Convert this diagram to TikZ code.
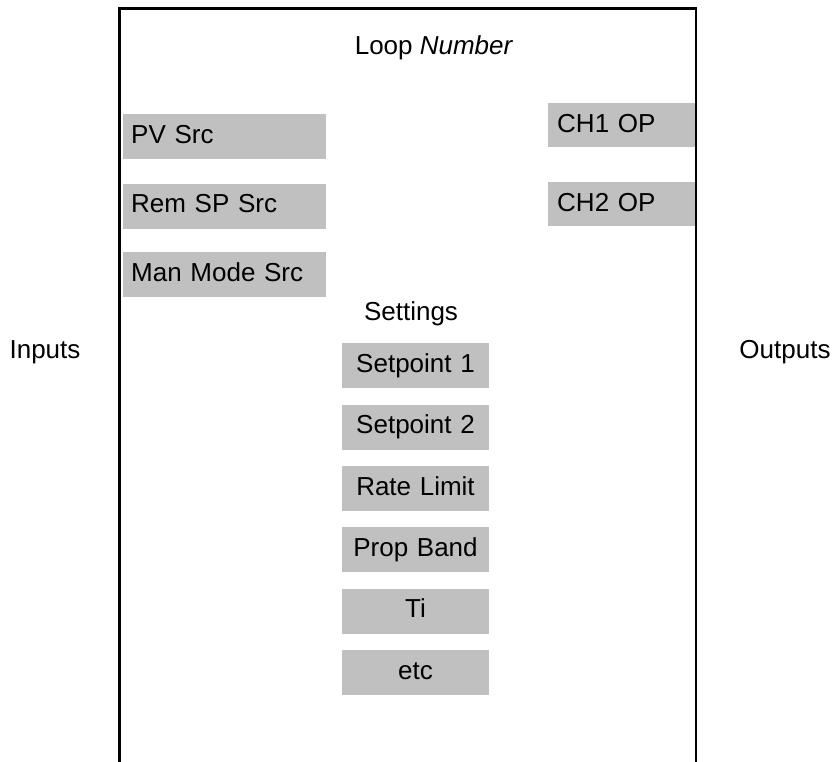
\documentclass[tikz,border=0pt]{standalone}
\usepackage{fontspec}
\setmainfont{Liberation Sans}
\usepackage{xcolor}
\usetikzlibrary{positioning}
\definecolor{boxgrey}{RGB}{192,192,192}

\begin{document}
\begin{tikzpicture}[
  x=1bp,y=-1bp,
  every node/.style={font=\fontsize{26bp}{31bp}\selectfont},
  srcbox/.style={fill=boxgrey,inner xsep=8bp,inner ysep=0pt,text width=187bp,
                 align=left,text height=29bp,text depth=16bp},
  opbox/.style={fill=boxgrey,inner xsep=9bp,inner ysep=0pt,text width=129bp,
                align=left,text height=29.5bp,text depth=14.5bp},
  setbox/.style={fill=boxgrey,inner xsep=8bp,inner ysep=0pt,text width=131bp,
                 align=center,text height=29bp,text depth=16bp},
  lbl/.style={anchor=base,inner sep=0pt},
  frame/.style={line width=2.8bp}
]
\useasboundingbox (0,0) rectangle (836,762);

%% Titles
\node[lbl] (loop) at (434,55) {Loop \textit{Number}};
\node[lbl] (inp)  at (45,358) {Inputs};
\node[lbl] (outp) at (785,358) {Outputs};

%% Inputs column
\node[srcbox,anchor=north west] (pv) at (123,114) {PV Src};
\node[srcbox,below=24bp of pv]  (rsp) {Rem SP Src};
\node[srcbox,below=23bp of rsp] (man) {Man Mode Src};

%% Outputs column
\node[opbox,anchor=north west] (ch1) at (548,103) {CH1 OP};
\node[opbox,below=34bp of ch1] (ch2) {CH2 OP};

%% Settings column
\node[lbl] (set) at (411,320) {Settings};
\node[setbox,anchor=north] (sp1) at (415.5,343) {Setpoint 1};
\node[setbox,below=16bp of sp1] (sp2)  {Setpoint 2};
\node[setbox,below=16bp of sp2] (rate) {Rate Limit};
\node[setbox,below=16bp of rate] (pb)  {Prop Band};
\node[setbox,below=16bp of pb]  (ti)   {Ti};
\node[setbox,below=16bp of ti]  (etc)  {etc};

%% Block outline, open at the bottom
\coordinate (bl) at (119.5,762);
\coordinate (tr) at (696,8.5);
\coordinate (br) at (696,762);
\draw[frame] (bl) |- (tr) -- (br);

\end{tikzpicture}
\end{document}
